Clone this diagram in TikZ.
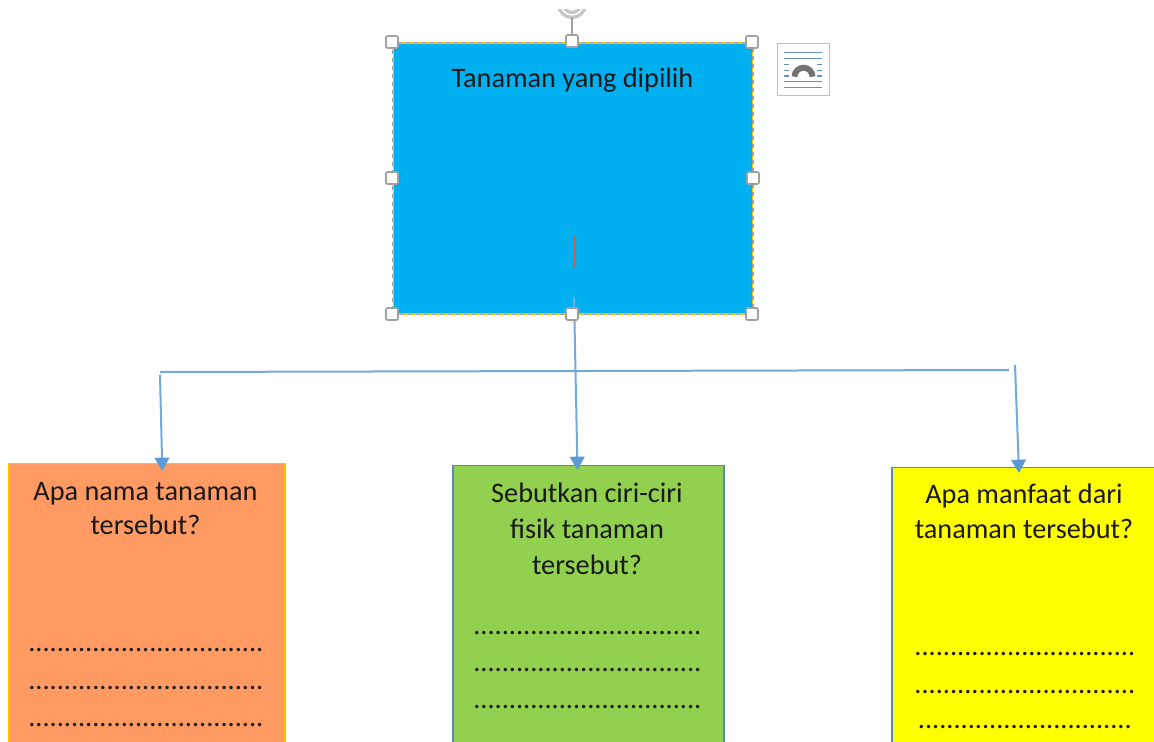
\documentclass[tikz,border=0pt]{standalone}
\usepackage{fontspec}
\setmainfont{Carlito}
\usetikzlibrary{arrows.meta,calc}
\definecolor{skyfill}{HTML}{00B0F0}
\definecolor{orangefill}{HTML}{FF9A63}
\definecolor{greenfill}{HTML}{92D050}
\definecolor{yellowfill}{RGB}{255,255,0}
\definecolor{goldline}{HTML}{FFC000}
\definecolor{steelline}{HTML}{5B86B8}
\definecolor{linkblue}{HTML}{5B9BD5}
\definecolor{handlegray}{HTML}{A0A0A0}
\definecolor{caretred}{HTML}{D9562B}
\definecolor{iconline}{HTML}{6690C4}
\begin{document}
\begin{tikzpicture}[x=0.75pt,y=-0.75pt]
      \tikzstyle{every node}+=[inner sep=0pt]
      \tikzstyle{boxtext}=[anchor=base,text=black!90,font=\fontsize{21.2}{25}\selectfont]
      \tikzstyle{handle}=[draw=handlegray,fill=white,line width=1.2pt,rounded corners=1pt,minimum size=9pt]
      \tikzstyle{link}=[draw=linkblue!85,line width=1.5pt]
      \tikzstyle{linkarrow}=[link,-{Triangle[length=10pt,width=11pt,color=linkblue]}]
      \useasboundingbox (0,0) rectangle (1154,742);
      \clip (0,0) rectangle (1154,742);
      \fill [white] (0,0) rectangle (1154,742);
      % top box
      \node (plantbox) [draw=goldline,fill=skyfill,line width=1.1pt,minimum width=269.25pt,minimum height=203.25pt] at (572.8,178.5) {};
      \draw [handlegray,line width=1pt,dash pattern=on 3pt off 3pt] (plantbox.north west) rectangle (plantbox.south east);
      \draw [caretred,line width=1pt] (574.3,235) -- (574.3,267);
      \node [boxtext] (planttext) at (572.5,87.5) {Tanaman yang dipilih};
      % lower boxes
      \node (boxa) [anchor=north,draw=goldline,fill=orangefill,line width=1.1pt,minimum width=207pt,minimum height=260pt] at (146.8,463) {};
      \node (boxb) [anchor=north,draw=steelline,fill=greenfill,line width=1.1pt,minimum width=203.25pt,minimum height=260pt] at (588.5,465) {};
      \node (boxc) [anchor=north,draw=steelline,fill=yellowfill,line width=1.1pt,minimum width=198.75pt,minimum height=260pt] at (1024.5,467) {};
      \node [boxtext] (texta1) at (145.5,500) {Apa nama tanaman};
      \node [boxtext] (texta2) at (145.5,534) {tersebut?};
      \node [boxtext] (textb1) at (587,502) {Sebutkan ciri-ciri};
      \node [boxtext] (textb2) at (587,538) {f{}isik tanaman};
      \node [boxtext] (textb3) at (587,574) {tersebut?};
      \node [boxtext] (textc1) at (1024,503) {Apa manfaat dari};
      \node [boxtext] (textc2) at (1024,538) {tanaman tersebut?};
      \node [boxtext] (dotsa1) at (146,651) {.................................};
      \node [boxtext] (dotsa2) at (146,689) {.................................};
      \node [boxtext] (dotsa3) at (146,726) {.................................};
      \node [boxtext] (dotsb1) at (587.5,634) {................................};
      \node [boxtext] (dotsb2) at (587.5,671) {................................};
      \node [boxtext] (dotsb3) at (587.5,708) {................................};
      \node [boxtext] (dotsc1) at (1025,655) {...............................};
      \node [boxtext] (dotsc2) at (1025,693) {...............................};
      \node [boxtext] (dotsc3) at (1025,728) {..............................};
      % connectors
      \coordinate (barleft) at (160,372);
      \coordinate (barright) at (1009,370);
      \coordinate (stemtop) at (574,297);
      \coordinate (starta) at (160,375);
      \coordinate (startc) at (1015,365);
      \coordinate (tipa) at ($(boxa.north)+(15.5,8)$);
      \coordinate (tipb) at ($(boxb.north)+(-11,5)$);
      \coordinate (tipc) at ($(boxc.north)+(-5.5,6)$);
      \draw [link] (barleft) -- (barright);
      \draw [linkarrow] (stemtop) -- (tipb);
      \draw [linkarrow] (starta) -- (tipa);
      \draw [linkarrow] (startc) -- (tipc);
      % rotate handle
      \coordinate (rotatetop) at (572,18);
      \begin{scope}
        \clip (550,10) rectangle (595,30);
        \draw [handlegray!60,line width=2.6pt,double=white,double distance=1pt] (572,4) circle (11);
      \end{scope}
      % selection handles
      \node [handle] (hnw) at (392,42) {};
      \node [handle] (hn) at (572,41) {};
      \node [handle] (hne) at (752,42) {};
      \node [handle] (hw) at (392,178) {};
      \node [handle] (he) at (753,178) {};
      \node [handle] (hsw) at (392,314) {};
      \node [handle] (hs) at (572,314) {};
      \node [handle] (hse) at (752,314) {};
      \draw [handlegray,line width=1pt] (rotatetop) -- (hn);
      % layout icon
      \node (iconbox) [draw=black!25,fill=white,line width=1.1pt,minimum width=39pt,minimum height=39pt] at (803.5,69.5) {};
      \draw [iconline,line width=1.1pt] (784,52.7) -- (822,52.7);
      \draw [iconline,line width=1.1pt] (784,58.7) -- (822,58.7);
      \draw [iconline,line width=1.1pt] (784,64.7) -- (789,64.7);
      \draw [iconline,line width=1.1pt] (817,64.7) -- (822,64.7);
      \draw [iconline,line width=1.1pt] (784,70.3) -- (789,70.3);
      \draw [iconline,line width=1.1pt] (817,70.3) -- (822,70.3);
      \draw [iconline,line width=1.1pt] (784,76) -- (789,76);
      \draw [iconline,line width=1.1pt] (817,76) -- (822,76);
      \draw [iconline,line width=1.1pt] (784,81.5) -- (822,81.5);
      \draw [iconline,line width=1.1pt] (784,87.7) -- (822,87.7);
      \draw [black!55,line width=4.4pt] (794.5,76.7) arc[start angle=180,end angle=360,radius=9];
    \end{tikzpicture}
\end{document}
